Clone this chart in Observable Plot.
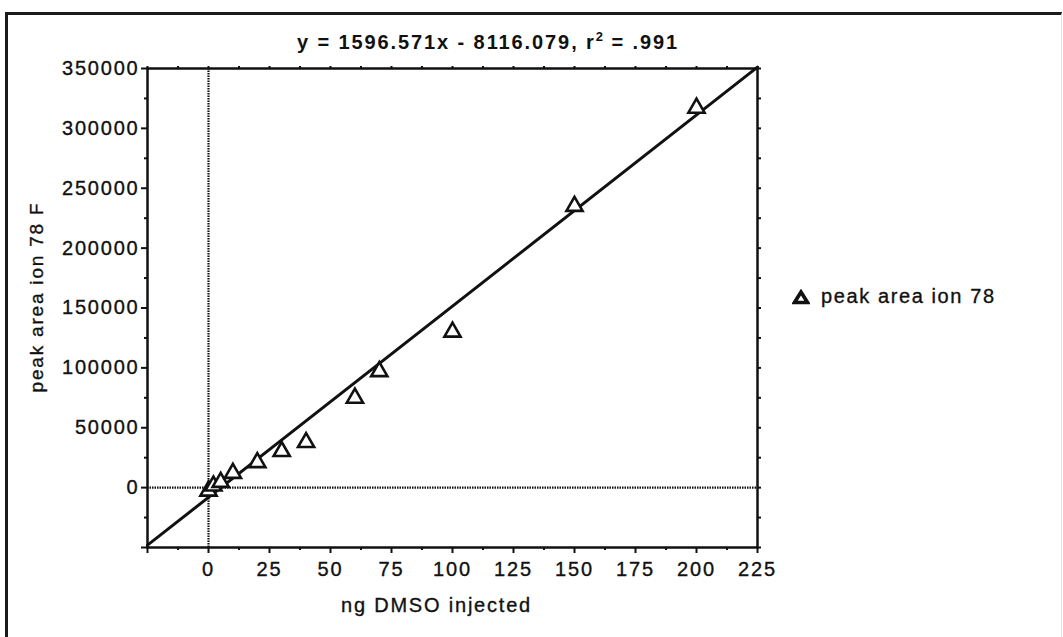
<!DOCTYPE html>
<html><head><meta charset="utf-8">
<script src="https://cdn.jsdelivr.net/npm/d3@7"></script>
<script src="https://cdn.jsdelivr.net/npm/@observablehq/plot@0.6"></script>
<style>
html,body{margin:0;padding:0;background:#fff;}
body{width:1063px;height:637px;position:relative;overflow:hidden;font-family:"Liberation Sans",Arial,Helvetica,sans-serif;color:#111;}
#box{position:absolute;left:5px;top:12px;width:1053px;height:700px;border-left:3px solid #1a1a1a;border-top:3px solid #1a1a1a;border-right:1px solid #e2e2e2;}
#title{position:absolute;left:0;width:976px;top:31px;text-align:center;font-weight:bold;font-size:20px;letter-spacing:1.9px;line-height:22px;white-space:nowrap;}
#title sup{font-size:13px;line-height:0;vertical-align:8px;letter-spacing:1px;}
#chart{position:absolute;left:0;top:56px;}
#chart svg text{letter-spacing:1.8px;stroke:#111;stroke-width:0.35px;}
#legend{position:absolute;left:792px;top:285px;display:flex;align-items:center;font-size:20px;letter-spacing:1.6px;white-space:nowrap;-webkit-text-stroke:0.35px #111;}
#legend svg{margin-right:11px;}
</style>
</head><body>
<div id="box"></div>
<div id="title"></div>
<div id="chart"></div>
<div id="legend"></div>
<script>
// ---- data ----
const seriesName = "peak area ion 78";
const ngDMSO   = [0, 2, 5, 10, 20, 30, 40, 60, 70, 100, 150, 200];
const peakArea = [-2800, 1500, 4500, 12000, 21000, 30300, 37800, 74800, 97000, 130000, 235000, 317000];
const fitSlope = [1596.571];
const fitIntercept = [-8116.079];
const fitR2 = [".991"];
const xDomain = [-25, 225];
const yDomain = [-50000, 350000];
const xMajorTicks = [-25, 0, 25, 50, 75, 100, 125, 150, 175, 200, 225];
const xMinorTicks = [-12.5, 12.5, 37.5, 62.5, 87.5, 112.5, 137.5, 162.5, 187.5, 212.5];
const yMajorTicks = [-50000, 0, 50000, 100000, 150000, 200000, 250000, 300000, 350000];
const yMinorTicks = [-25000, 25000, 75000, 125000, 175000, 225000, 275000, 325000];
const xLabel = "ng DMSO injected";
const yLabel = "peak area ion 78 F";

// ---- derived ----
const points = ngDMSO.map((x, i) => ({x, y: peakArea[i]}));
const fitLine = xDomain.map(x => ({x, y: fitSlope[0] * x + fitIntercept[0]}));
const xTopTicks = [...xMajorTicks, ...xMinorTicks].sort((a, b) => a - b);
const yRightTicks = [...yMajorTicks, ...yMinorTicks].sort((a, b) => a - b);

document.getElementById("title").innerHTML =
  `y = ${fitSlope[0]}x - ${Math.abs(fitIntercept[0])}, r<sup>2</sup> = ${fitR2[0]}`;

const ink = "#111";
const chart = Plot.plot({
  width: 1063,
  height: 581,
  marginLeft: 147,
  marginRight: 306,
  marginTop: 12,
  marginBottom: 90,
  style: {fontFamily: '"Liberation Sans", Arial, Helvetica, sans-serif', fontSize: "20px", color: ink, background: "transparent"},
  x: {domain: xDomain},
  y: {domain: yDomain},
  marks: [
    Plot.ruleX([0], {stroke: ink, strokeWidth: 2.2, strokeDasharray: "1.5,1"}),
    Plot.ruleY([0], {stroke: ink, strokeWidth: 2.2, strokeDasharray: "1.5,1"}),
    Plot.line(fitLine, {x: "x", y: "y", stroke: ink, strokeWidth: 3}),
    Plot.dot(points, {x: "x", y: "y", symbol: "triangle", r: 6, stroke: ink, strokeWidth: 2.6, fill: "white"}),
    Plot.frame({stroke: ink, strokeWidth: 2.5}),
    Plot.axisX({ticks: xMajorTicks, anchor: "bottom", tickSize: 6, tickPadding: 8, strokeWidth: 2,
      tickFormat: d => d < 0 ? "" : String(d), label: null}),
    Plot.axisX({ticks: xMinorTicks, anchor: "bottom", tickSize: 3, strokeWidth: 2, tickFormat: () => "", label: null}),
    Plot.axisX({ticks: xTopTicks, anchor: "top", tickSize: 3, strokeWidth: 2, tickFormat: () => "", label: null}),
    Plot.axisY({ticks: yMajorTicks, anchor: "left", tickSize: 6, tickPadding: 2, strokeWidth: 2,
      tickFormat: d => d < 0 ? "" : String(d), label: null}),
    Plot.axisY({ticks: yMinorTicks, anchor: "left", tickSize: 3, strokeWidth: 2, tickFormat: () => "", label: null}),
    Plot.axisY({ticks: yRightTicks, anchor: "right", tickSize: 3, strokeWidth: 2, tickFormat: () => "", label: null}),
    Plot.text([xLabel], {frameAnchor: "bottom", text: d => d, dy: 58, dx: -16, lineAnchor: "middle", textAnchor: "middle", fill: ink, fontSize: 20}),
    Plot.text([yLabel], {frameAnchor: "left", text: d => d, rotate: -90, dx: -111, dy: -11, lineAnchor: "middle", textAnchor: "middle", fill: ink, fontSize: 19})
  ]
});
document.getElementById("chart").appendChild(chart);

document.getElementById("legend").innerHTML =
  `<svg width="18" height="16" viewBox="0 0 18 16"><polygon points="9,3 15.5,13.5 2.5,13.5" fill="white" stroke="${ink}" stroke-width="3.6" stroke-linejoin="miter"/></svg><span>${seriesName}</span>`;
</script>
</body></html>
